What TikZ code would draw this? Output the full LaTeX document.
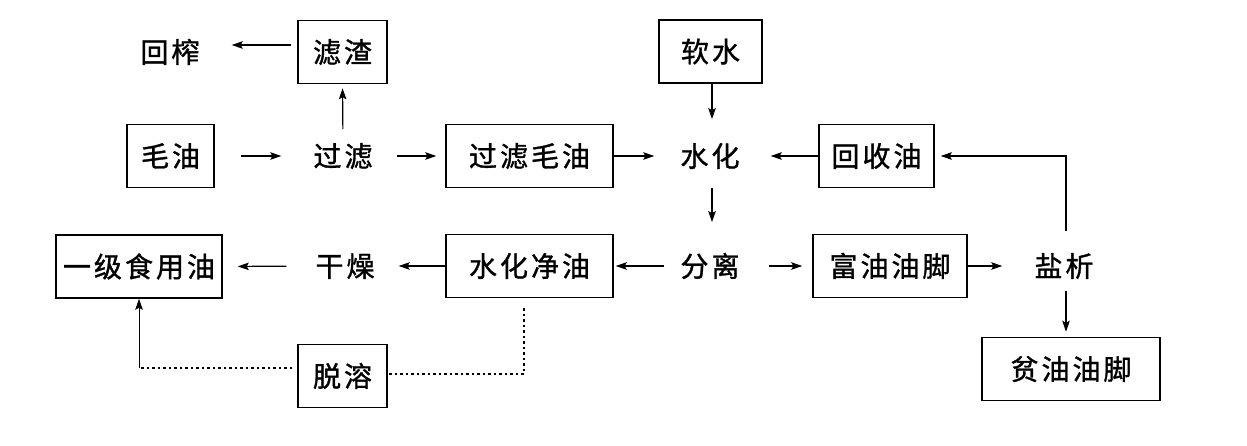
\documentclass[tikz,border=0pt]{standalone}
\usepackage{fontspec}
\newfontfamily\cjk[FakeBold=1.2]{Noto Sans CJK SC}
\usetikzlibrary{arrows.meta}
\newcommand\ks{\kern3pt}
\tikzset{
  base/.style={font=\cjk\fontsize{28}{30}\selectfont, inner sep=0pt, text height=23.3pt, text depth=2pt},
  box/.style={base, draw, line width=1.5pt, minimum height=63pt},
  lbl/.style={base},
  arr/.style={line width=1.2pt, -{Stealth[length=11pt,width=7.5pt,inset=2pt]}},
  dots/.style={line width=1.3pt, dash pattern=on 2.5pt off 3pt},
}
\begin{document}
\begin{tikzpicture}[x=1pt,y=-1pt]
\useasboundingbox (0,0) rectangle (1247,445);
% row 0
\node[lbl] (huizha) at (170,52) {回\ks{}榨};
\node[box, minimum width=89pt] (lvzha) at (342.5,52) {滤\ks{}渣};
\node[box, minimum width=103pt] (ruanshui) at (710.5,51.5) {软\ks{}水};
% row 1
\node[box, minimum width=87pt] (mao) at (170.5,156) {毛\ks{}油};
\node[lbl] (guolv) at (343,156) {过\ks{}滤};
\node[box, minimum width=167pt] (glmy) at (529.5,156) {过\ks{}滤\ks{}毛\ks{}油};
\node[lbl] (shuihua) at (710,156) {水\ks{}化};
\node[box, minimum width=115pt] (huishou) at (876.5,156) {回\ks{}收\ks{}油};
% row 2
\node[box, minimum width=166pt] (yjsy) at (139,266.5) {一\ks{}级\ks{}食\ks{}用\ks{}油};
\node[lbl] (ganzao) at (345,266) {干\ks{}燥};
\node[box, minimum width=167pt] (shjy) at (529.5,266) {水\ks{}化\ks{}净\ks{}油};
\node[lbl] (fenli) at (710,266) {分\ks{}离};
\node[box, minimum width=154pt] (fuyou) at (890,266) {富\ks{}油\ks{}油\ks{}脚};
\node[lbl] (yanxi) at (1064,266) {盐\ks{}析};
% row 3
\node[box, minimum width=89pt] (tuorong) at (342.5,376) {脱\ks{}溶};
\node[box, minimum width=178pt] (pinyou) at (1071,369) {贫\ks{}油\ks{}油\ks{}脚};

% connectors
\draw[arr] ([xshift=-6pt,yshift=7pt]lvzha.west) -- ([xshift=32pt,yshift=7pt]huizha.east);
\draw[arr, shorten <=14pt, shorten >=4pt] (guolv.north) -- (lvzha.south);
\draw[arr, shorten <=26pt, shorten >=32pt] (mao.east) -- (guolv.west);
\draw[arr, shorten <=24pt, shorten >=9pt] (guolv.east) -- (glmy.west);
\draw[arr, shorten >=26pt] (glmy.east) -- (shuihua.west);
\draw[arr, shorten >=31pt] (huishou.west) -- (shuihua.east);
\draw[arr, shorten >=24pt] ([xshift=1.5pt]ruanshui.south) -- ([xshift=2pt]shuihua.north);
\draw[arr, shorten <=19pt, shorten >=31pt] ([xshift=2pt]shuihua.south) -- ([xshift=2pt]fenli.north);
\draw[arr, shorten <=16pt, shorten >=2pt] (fenli.west) -- (shjy.east);
\draw[arr, shorten <=29pt, shorten >=10pt] (fenli.east) -- (fuyou.west);
\draw[arr, shorten >=32pt] (fuyou.east) -- (yanxi.west);
\draw[arr, shorten >=1pt] (shjy.west) -- ([xshift=23pt]ganzao.east);
\draw[arr, shorten <=29pt, shorten >=15pt] (ganzao.west) -- (yjsy.east);
\draw[arr] ([xshift=2pt,yshift=22pt]yanxi.north) |- ([xshift=6pt]huishou.east);
\draw[arr, shorten <=12pt, shorten >=5pt] ([xshift=2pt]yanxi.south) -- ([xshift=2pt]yanxi.south |- pinyou.north);
% dotted paths
\draw[dots] ([xshift=-5.5pt,yshift=-10pt]shjy.south) |- ([yshift=2pt]tuorong.east);
\coordinate (tl) at ([xshift=-5pt,yshift=8pt]tuorong.west);
\coordinate (corner) at (yjsy.south |- tl);
\draw[dots] (tl) -- (corner);
\draw[arr, line width=1pt] (corner) -- (yjsy.south);
\end{tikzpicture}
\end{document}
